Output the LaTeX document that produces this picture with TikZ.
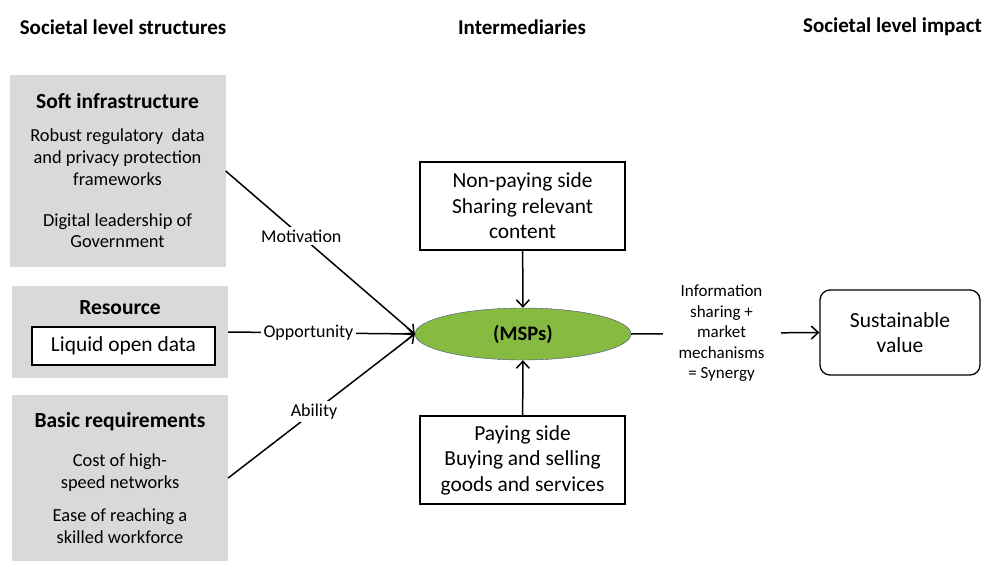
\documentclass[tikz,border=0pt]{standalone}
\usepackage{fontspec}
\setmainfont{Carlito}
\usetikzlibrary{shapes.geometric,arrows.meta}
\definecolor{mspgreen}{RGB}{134,186,64}
\definecolor{panelgray}{RGB}{217,217,217}

\begin{document}
\begin{tikzpicture}[x=1pt,y=-1pt,
  every node/.style={font=\fontsize{18.4}{21.8}\selectfont},
  head/.style={font=\fontsize{21}{25}\selectfont\bfseries},
  graybox/.style={fill=panelgray,inner sep=0pt,align=center},
  sidebox/.style={draw,line width=1.3pt,minimum width=205,minimum height=88,align=center,inner sep=2pt,font=\fontsize{21.4}{25.5}\selectfont},
  lbl/.style={fill=white,inner sep=3pt,font=\fontsize{18}{21}\selectfont},
  arr/.style={line width=1.5pt,-{Straight Barb[length=7pt,width=13pt]}}]
\useasboundingbox (0,0) rectangle (983,562);
% column headings
\node[head] (h1) at (123,27) {Societal level structures};
\node[head] (h2) at (522,27) {Intermediaries};
\node[head,anchor=east,inner xsep=1pt] (h3) at (983,27) {Societal level impact};
% left column
\node[graybox,minimum width=216,minimum height=192] (soft) at (117.5,171)
  {{\fontsize{21.5}{25}\selectfont\bfseries Soft infrastructure}\\[11pt]Robust regulatory~ data\\and privacy protection\\frameworks\\[19pt]Digital leadership of\\Government};
\node[graybox,minimum width=216,minimum height=92] (res) at (120,332) {};
\node[font=\fontsize{21.5}{25}\selectfont\bfseries] (restitle) at (120,308) {Resource};
\node[draw,line width=1.3pt,fill=white,minimum width=183,minimum height=38,font=\fontsize{21.4}{25}\selectfont] (liquid) at (123.5,346) {Liquid open data};
\node[graybox,minimum width=216,minimum height=166] (basic) at (120,478)
  {{\fontsize{21.5}{25}\selectfont\bfseries Basic requirements}\\[17pt]Cost of high-\\speed networks\\[11pt]Ease of reaching a\\skilled workforce};
% intermediaries
\node[ellipse,draw=blue!30!black!70,fill=mspgreen,minimum width=216,minimum height=52,inner sep=0pt,font=\fontsize{20.6}{24}\selectfont\bfseries] (msp) at (523,334) {(MSPs)};
\node[sidebox] (nonpay) at (522.5,206) {Non-paying side\\Sharing relevant\\content};
\node[sidebox] (pay) at (522.5,460) {Paying side\\Buying and selling\\goods and services};
% impact
\node[draw,line width=1.3pt,rounded corners=10pt,minimum width=160,minimum height=85,align=center,font=\fontsize{21.5}{25}\selectfont] (value) at (900,332.5) {Sustainable\\value};
% connectors
\draw[arr] (soft.east) -- node[lbl,pos=0.4] {Motivation} (msp.west);
\draw[arr] (res.east) -- node[lbl,pos=0.43] {Opportunity} (msp.west);
\draw[arr] (basic.east) -- node[lbl,pos=0.46] {Ability} (msp.west);
\draw[arr] (nonpay) -- (msp);
\draw[arr] (pay) -- (msp);
\draw[arr] (msp.east) -- node[lbl,pos=0.48,inner xsep=16pt,align=center,font=\fontsize{17}{20.5}\selectfont] {Information\\sharing +\\market\\mechanisms\\= Synergy} (value.west);
\end{tikzpicture}
\end{document}
